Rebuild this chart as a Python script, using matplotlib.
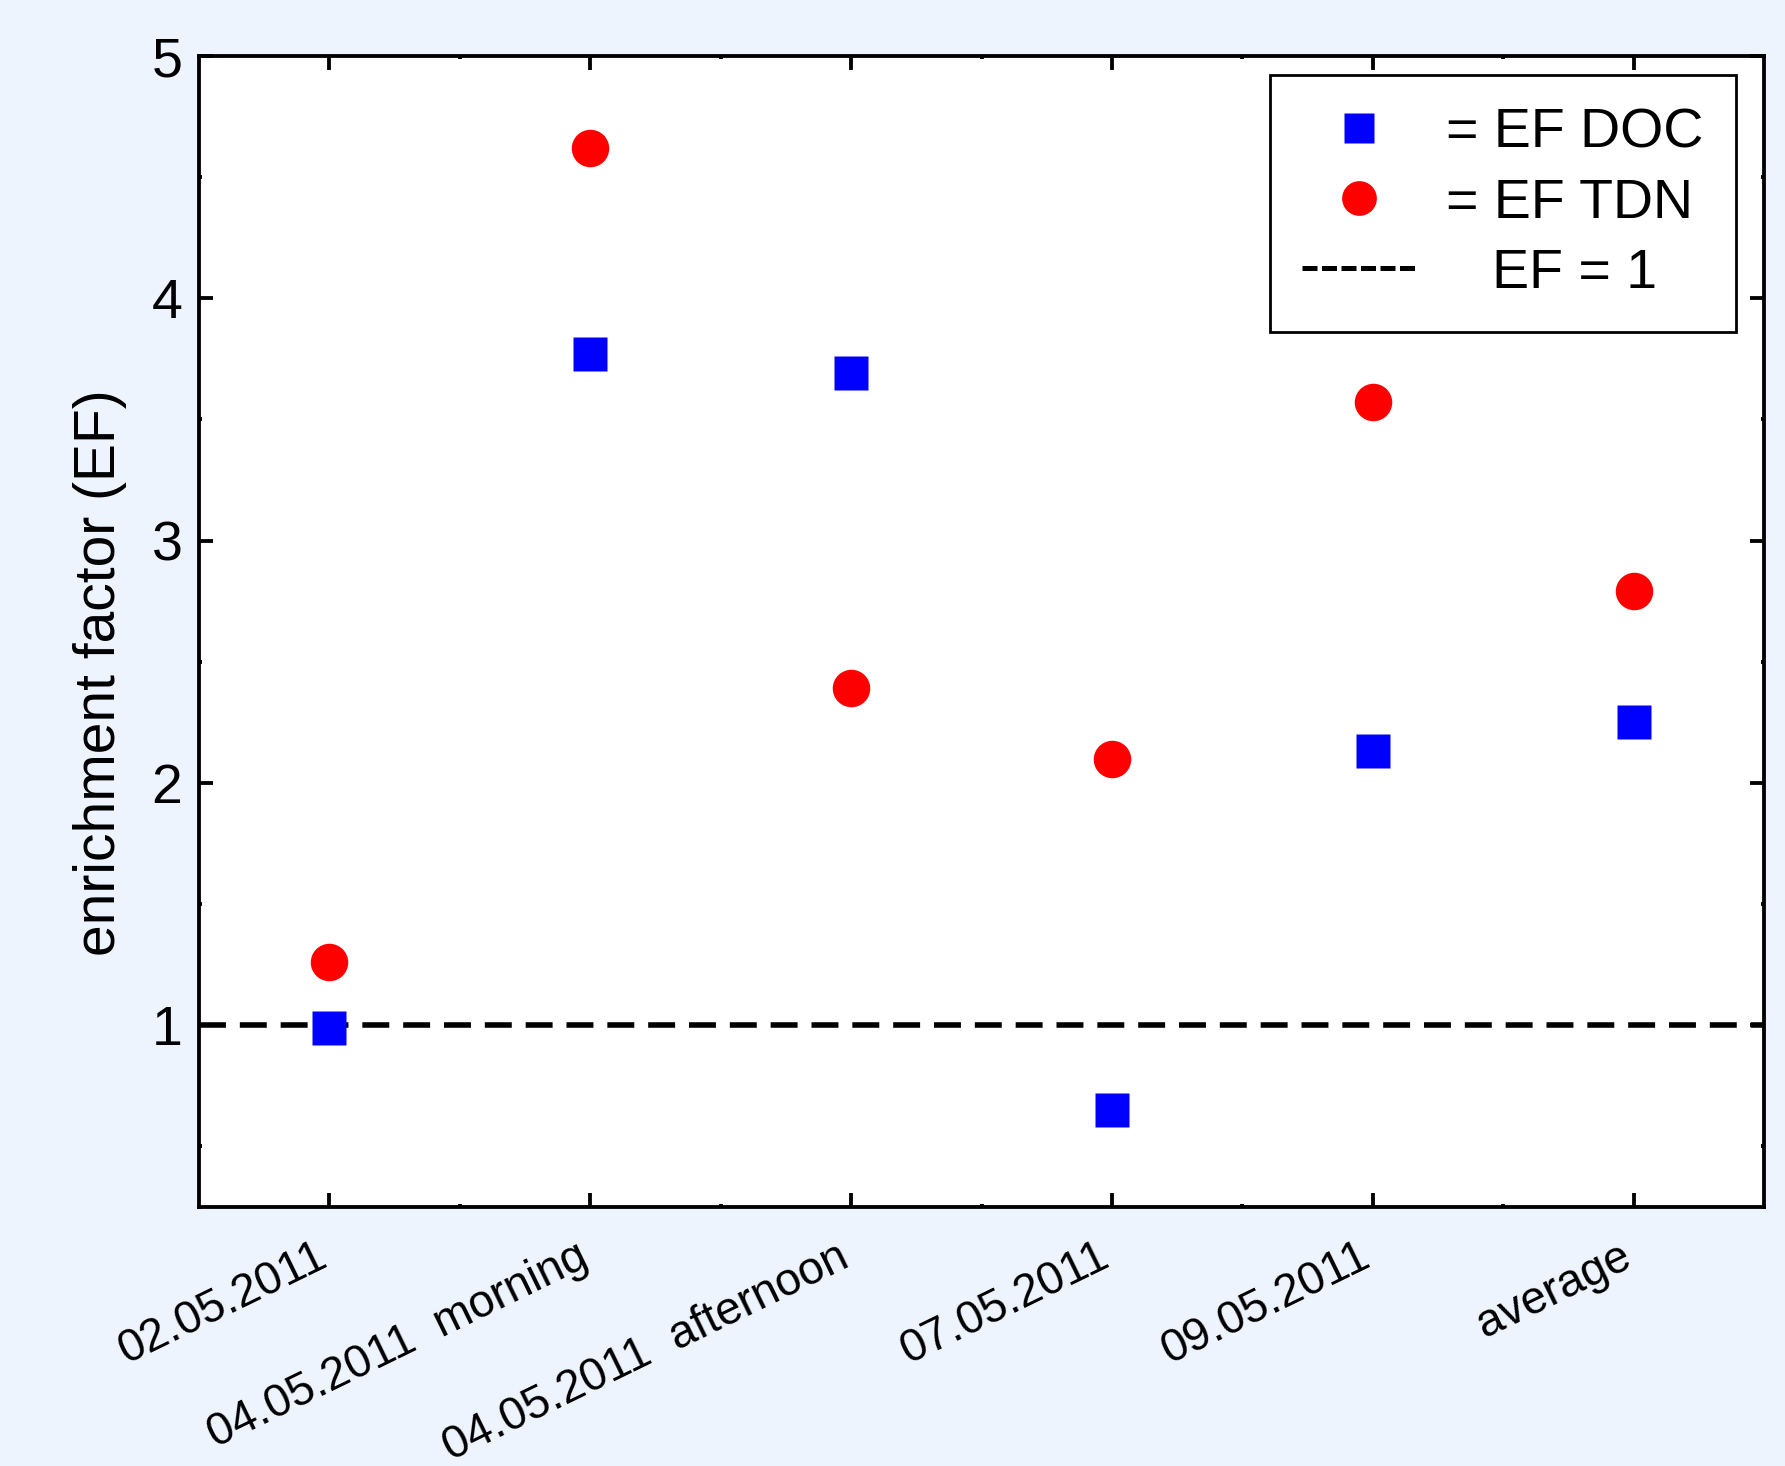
import matplotlib
matplotlib.use("Agg")
import matplotlib.pyplot as plt
from matplotlib.lines import Line2D
from matplotlib.ticker import MultipleLocator

categories = ["02.05.2011", "04.05.2011  morning", "04.05.2011  afternoon",
              "07.05.2011", "09.05.2011", "average"]
ef_doc = [0.99, 3.77, 3.69, 0.65, 2.13, 2.25]
ef_tdn = [1.26, 4.62, 2.39, 2.10, 3.57, 2.79]
y_ticks = [1, 2, 3, 4, 5]

plt.rcParams['font.family'] = ['Liberation Sans', 'DejaVu Sans']
bg = "#EDF4FE"

fig = plt.figure(figsize=(17.85, 14.66), dpi=100, facecolor=bg)
ax = fig.add_axes([0.1115, 0.1767, 0.8768, 0.7851])
ax.set_facecolor("white")

x = list(range(len(categories)))
ax.axhline(1, color="black", lw=4, ls=(0, (4.85, 2.5)), zorder=1)
ax.plot(x, ef_doc, ls="none", marker="s", ms=25, color="#0000FF", mec="none", zorder=3)
ax.plot(x, ef_tdn, ls="none", marker="o", ms=27, color="#FF0000", mec="none", zorder=3)

ax.set_xlim(-0.5, 5.5)
ax.set_ylim(0.25, 5)
ax.set_xticks(x)
ax.set_xticklabels(categories, rotation=26, ha="right", va="baseline",
                   rotation_mode="anchor", fontsize=33)
ax.set_yticks(y_ticks)
ax.yaxis.set_minor_locator(MultipleLocator(0.5))
ax.set_xticks([i + 0.5 for i in x[:-1]], minor=True)
ax.tick_params(axis="both", which="major", direction="in", length=10, width=2.75,
               top=True, right=True)
ax.tick_params(axis="x", which="major", pad=42)
ax.tick_params(axis="y", which="major", labelsize=40, pad=12)
ax.tick_params(axis="both", which="minor", direction="in", length=2.5, width=2.75,
               top=True, right=True)
for s in ax.spines.values():
    s.set_linewidth(2.75)

ax.set_ylabel("enrichment factor (EF)", fontsize=41)
ax.yaxis.set_label_coords(-0.046, 0.464)

handles = [
    Line2D([], [], ls="none", marker="s", ms=22, color="#0000FF", mec="none"),
    Line2D([], [], ls="none", marker="o", ms=25, color="#FF0000", mec="none"),
    Line2D([], [], color="black", lw=3.6, ls=(0, (3, 0.9))),
]
labels = ["= EF DOC", "= EF TDN", "   EF = 1"]
leg = ax.legend(handles, labels, loc="upper right", bbox_to_anchor=(0.982, 0.9835),
                borderaxespad=0, fontsize=40, frameon=True, fancybox=False,
                edgecolor="black", framealpha=1, handlelength=2.05,
                handletextpad=0.55, labelspacing=0.33, borderpad=0.58)
leg.get_frame().set_linewidth(2)

fig.savefig("out.png", dpi=100, facecolor=bg)
